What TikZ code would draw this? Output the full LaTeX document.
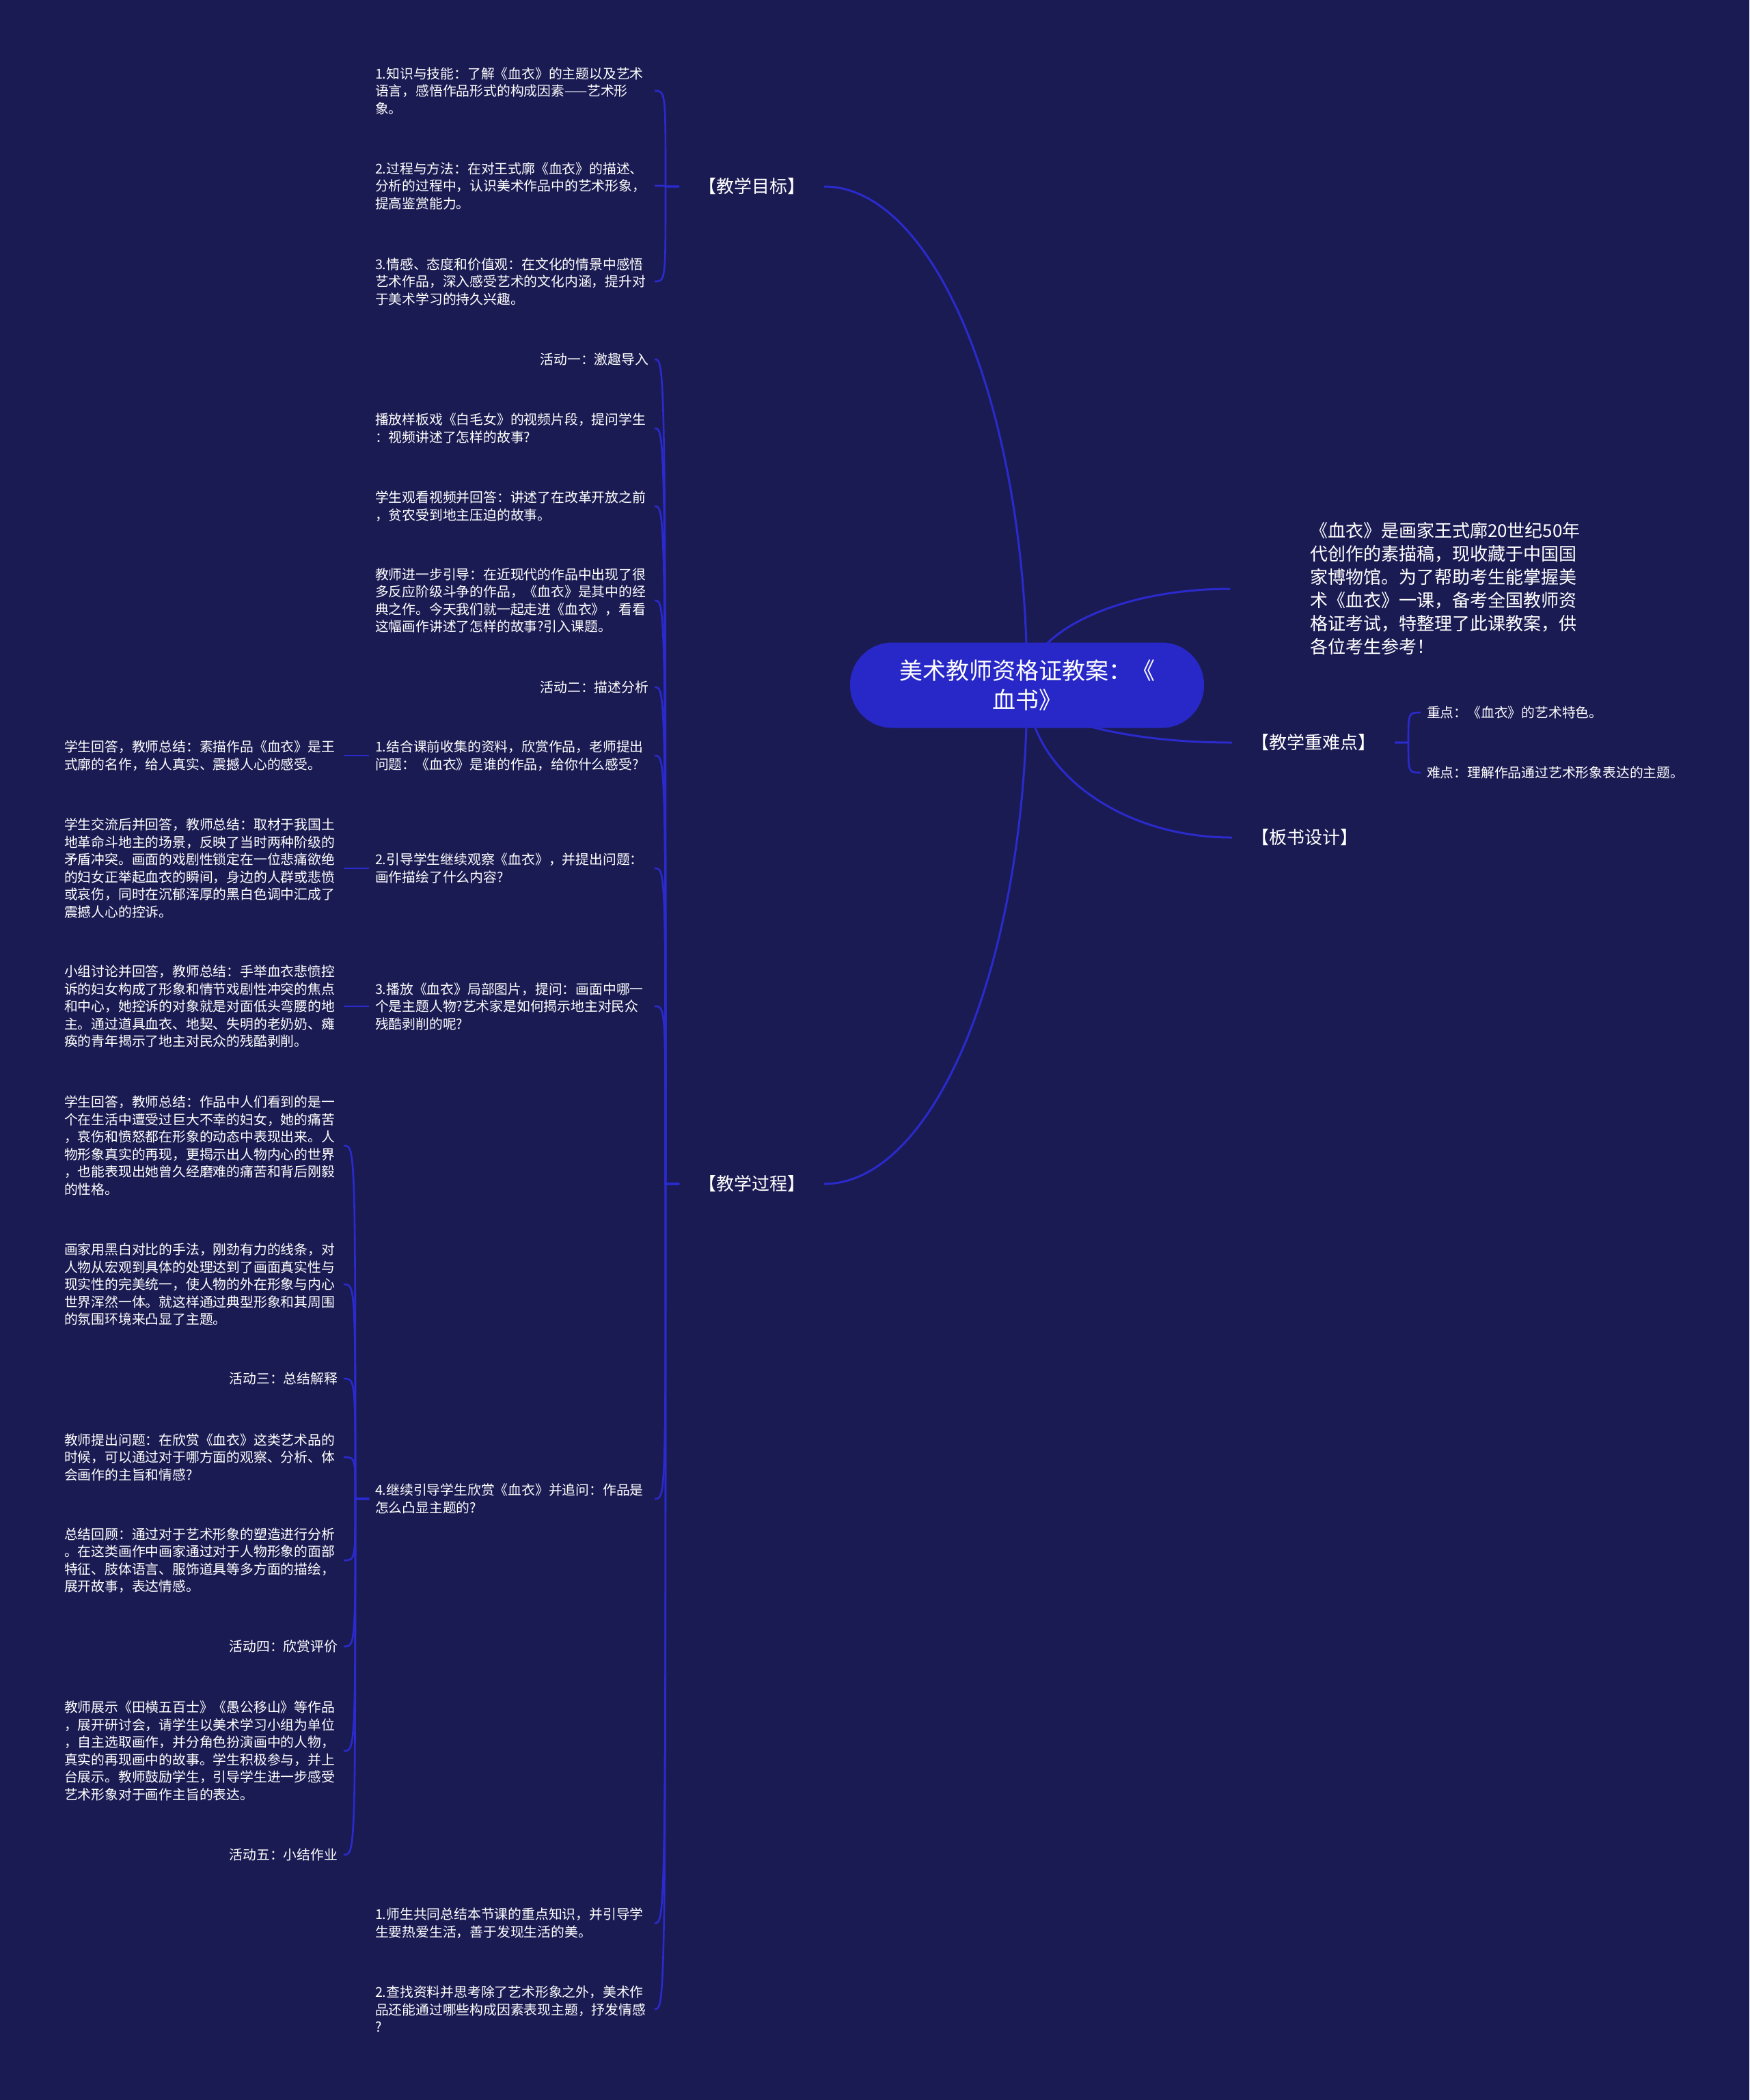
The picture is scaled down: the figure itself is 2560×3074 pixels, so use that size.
\documentclass[tikz,border=0pt]{standalone}
\usepackage{fontspec}
\setmainfont{Noto Sans CJK SC}
\usetikzlibrary{calc}
\definecolor{bgc}{RGB}{27,27,83}
\definecolor{rootc}{RGB}{40,40,200}
\definecolor{linec}{RGB}{42,42,205}
\pgfdeclarelayer{bg}
\pgfdeclarelayer{links}
\pgfsetlayers{bg,links,main}
\tikzset{
  txt/.style={text=white, inner sep=0pt, outer xsep=9pt, text width=400pt, align=left, anchor=west, font=\fontsize{19.8pt}{25.5pt}\selectfont},
  txtr/.style={txt, align=right},
  small/.style={text=white, inner sep=0pt, outer xsep=9pt, anchor=west, font=\fontsize{19.8pt}{25.5pt}\selectfont},
  topic/.style={text=white, inner sep=0pt, outer xsep=28pt, anchor=west, font=\fontsize{26pt}{34pt}\selectfont},
  introst/.style={text=white, inner sep=0pt, outer xsep=117pt, anchor=west, align=left, font=\fontsize{26pt}{34pt}\selectfont},
  rootnode/.style={fill=rootc, text=white, rounded corners=62pt, minimum width=518pt, minimum height=125pt, align=center, inner sep=0pt, font=\fontsize{34pt}{43pt}\selectfont},
  link/.style={draw=linec, line width=2.6pt},
  mainlink/.style={draw=linec, line width=3pt},
}
\begin{document}
\begin{tikzpicture}[x=1pt,y=-1pt]
\begin{pgfonlayer}{bg}
\fill[bgc] (0,0) rectangle (2560,3074);
\end{pgfonlayer}
\useasboundingbox (0,0) rectangle (2560,3074);

% root
\node[rootnode] (root) at (1503,1003) {美术教师资格证教案：《\\血书》};

% level 1
\node[topic] (goal) at (994,273) {【教学目标】};
\node[topic] (proc) at (994,1733) {【教学过程】};
\node[topic] (key) at (1803,1087) {【教学重难点】};
\node[topic] (board) at (1803,1226) {【板书设计】};
\node[introst] (intro) at (1800,862) {《血衣》是画家王式廓20世纪50年\\代创作的素描稿，现收藏于中国国\\家博物馆。为了帮助考生能掌握美\\术《血衣》一课，备考全国教师资\\格证考试，特整理了此课教案，供\\各位考生参考！};

% key children
\node[small] (z1) at (2079,1043) {重点：《血衣》的艺术特色。};
\node[small] (z2) at (2079,1131) {难点：理解作品通过艺术形象表达的主题。};

% goal children
\node[txt] (g1) at (540,133) {1.知识与技能：了解《血衣》的主题以及艺术\\语言，感悟作品形式的构成因素——艺术形\\象。};
\node[txt] (g2) at (540,272) {2.过程与方法：在对王式廓《血衣》的描述、\\分析的过程中，认识美术作品中的艺术形象，\\提高鉴赏能力。};
\node[txt] (g3) at (540,412) {3.情感、态度和价值观：在文化的情景中感悟\\艺术作品，深入感受艺术的文化内涵，提升对\\于美术学习的持久兴趣。};

% process children
\node[txtr] (p1) at (540,526) {活动一：激趣导入};
\node[txt] (p2) at (540,627) {播放样板戏《白毛女》的视频片段，提问学生\\：视频讲述了怎样的故事?};
\node[txt] (p3) at (540,741) {学生观看视频并回答：讲述了在改革开放之前\\，贫农受到地主压迫的故事。};
\node[txt] (p4) at (540,879) {教师进一步引导：在近现代的作品中出现了很\\多反应阶级斗争的作品，《血衣》是其中的经\\典之作。今天我们就一起走进《血衣》，看看\\这幅画作讲述了怎样的故事?引入课题。};
\node[txtr] (p5) at (540,1006) {活动二：描述分析};
\node[txt] (p6) at (540,1106) {1.结合课前收集的资料，欣赏作品，老师提出\\问题：《血衣》是谁的作品，给你什么感受?};
\node[txt] (p7) at (540,1271) {2.引导学生继续观察《血衣》，并提出问题：\\画作描绘了什么内容?};
\node[txt] (p8) at (540,1473) {3.播放《血衣》局部图片，提问：画面中哪一\\个是主题人物?艺术家是如何揭示地主对民众\\残酷剥削的呢?};
\node[txt] (p9) at (540,2194) {4.继续引导学生欣赏《血衣》并追问：作品是\\怎么凸显主题的?};
\node[txt] (p10) at (540,2815) {1.师生共同总结本节课的重点知识，并引导学\\生要热爱生活，善于发现生活的美。};
\node[txt] (p11) at (540,2941) {2.查找资料并思考除了艺术形象之外，美术作\\品还能通过哪些构成因素表现主题，抒发情感\\?};

% left column
\node[txt] (q1) at (85,1106) {学生回答，教师总结：素描作品《血衣》是王\\式廓的名作，给人真实、震撼人心的感受。};
\node[txt] (q2) at (85,1271) {学生交流后并回答，教师总结：取材于我国土\\地革命斗地主的场景，反映了当时两种阶级的\\矛盾冲突。画面的戏剧性锁定在一位悲痛欲绝\\的妇女正举起血衣的瞬间，身边的人群或悲愤\\或哀伤，同时在沉郁浑厚的黑白色调中汇成了\\震撼人心的控诉。};
\node[txt] (q3) at (85,1473) {小组讨论并回答，教师总结：手举血衣悲愤控\\诉的妇女构成了形象和情节戏剧性冲突的焦点\\和中心，她控诉的对象就是对面低头弯腰的地\\主。通过道具血衣、地契、失明的老奶奶、瘫\\痪的青年揭示了地主对民众的残酷剥削。};
\node[txt] (r1) at (85,1677) {学生回答，教师总结：作品中人们看到的是一\\个在生活中遭受过巨大不幸的妇女，她的痛苦\\，哀伤和愤怒都在形象的动态中表现出来。人\\物形象真实的再现，更揭示出人物内心的世界\\，也能表现出她曾久经磨难的痛苦和背后刚毅\\的性格。};
\node[txt] (r2) at (85,1880) {画家用黑白对比的手法，刚劲有力的线条，对\\人物从宏观到具体的处理达到了画面真实性与\\现实性的完美统一，使人物的外在形象与内心\\世界浑然一体。就这样通过典型形象和其周围\\的氛围环境来凸显了主题。};
\node[txtr] (r3) at (85,2018) {活动三：总结解释};
\node[txt] (r4) at (85,2133) {教师提出问题：在欣赏《血衣》这类艺术品的\\时候，可以通过对于哪方面的观察、分析、体\\会画作的主旨和情感?};
\node[txt] (r5) at (85,2284) {总结回顾：通过对于艺术形象的塑造进行分析\\。在这类画作中画家通过对于人物形象的面部\\特征、肢体语言、服饰道具等多方面的描绘，\\展开故事，表达情感。};
\node[txtr] (r6) at (85,2410) {活动四：欣赏评价};
\node[txt] (r7) at (85,2563) {教师展示《田横五百士》《愚公移山》等作品\\，展开研讨会，请学生以美术学习小组为单位\\，自主选取画作，并分角色扮演画中的人物，\\真实的再现画中的故事。学生积极参与，并上\\台展示。教师鼓励学生，引导学生进一步感受\\艺术形象对于画作主旨的表达。};
\node[txtr] (r8) at (85,2715) {活动五：小结作业};

% trunk points
\coordinate (tg) at ($(goal.west)+(-20,0)$);
\coordinate (tp) at ($(proc.west)+(-20,0)$);
\coordinate (tk) at ($(key.east)+(20,0)$);
\coordinate (t6) at ($(p6.west)+(-20,0)$);
\coordinate (t7) at ($(p7.west)+(-20,0)$);
\coordinate (t8) at ($(p8.west)+(-20,0)$);
\coordinate (t9) at ($(p9.west)+(-20,0)$);

\begin{pgfonlayer}{links}
\foreach \c in {goal,proc}
  \draw[mainlink] (root.center) .. controls ($(root.center)!0.55!(root.center |- \c.east)$) and ($(\c.east)!0.55!(root.center |- \c.east)$) .. (\c.east);
\foreach \c in {intro,key,board}
  \draw[mainlink] (root.center) .. controls ($(root.center)!0.55!(root.center |- \c.west)$) and ($(\c.west)!0.55!(root.center |- \c.west)$) .. (\c.west);
\foreach \c in {g1,g2,g3}
  \draw[link] (goal.west) -- (tg) .. controls (tg |- \c.east) .. (\c.east);
\foreach \c in {p1,p2,p3,p4,p5,p6,p7,p8,p9,p10,p11}
  \draw[link] (proc.west) -- (tp) .. controls (tp |- \c.east) .. (\c.east);
\foreach \c in {z1,z2}
  \draw[link] (key.east) -- (tk) .. controls (tk |- \c.west) .. (\c.west);
\draw[link] (p6.west) -- (t6) .. controls (t6 |- q1.east) .. (q1.east);
\draw[link] (p7.west) -- (t7) .. controls (t7 |- q2.east) .. (q2.east);
\draw[link] (p8.west) -- (t8) .. controls (t8 |- q3.east) .. (q3.east);
\foreach \c in {r1,r2,r3,r4,r5,r6,r7,r8}
  \draw[link] (p9.west) -- (t9) .. controls (t9 |- \c.east) .. (\c.east);
\end{pgfonlayer}
\end{tikzpicture}
\end{document}
